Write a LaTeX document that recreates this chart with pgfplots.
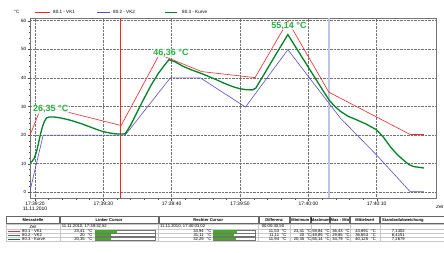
\documentclass[border=0pt]{standalone}
\usepackage{pgfplots}
\pgfplotsset{compat=1.18}
\usepackage{fontspec}
\setmainfont{Liberation Sans}
\definecolor{cred}{RGB}{240,40,40}
\definecolor{cblue}{RGB}{90,80,190}
\definecolor{cgreen}{RGB}{0,130,40}
\definecolor{clab}{RGB}{40,175,70}
\definecolor{ccur}{RGB}{195,195,232}
\definecolor{cbar}{RGB}{70,170,40}
\newcommand\tf{\fontsize{4.2}{4.5}\selectfont}
\newcommand\hf{\fontsize{4.1}{4.5}\selectfont\bfseries}
\newcommand\rowA[9]{%
  \draw[#2, line width=1pt] (7.5,#1) -- (20,#1);
  \node[tn,anchor=west] at (22,#1) {#3};
  \node[tn,anchor=east] at (85,#1) {#4};
  \node[tn,anchor=west] at (87.5,#1) {°C};
  \draw[black!55,line width=0.3pt,fill=white] (95,#1-1.5) rectangle (155,#1+1.5);
  \fill[cbar] (95.2,#1-1.3) rectangle (#5,#1+1.3);
  \node[tn,anchor=east] at (204,#1) {#6};
  \node[tn,anchor=west] at (206.5,#1) {°C};
  \draw[black!55,line width=0.3pt,fill=white] (212.7,#1-1.5) rectangle (255,#1+1.5);
  \fill[cbar] (212.9,#1-1.3) rectangle (#7,#1+1.3);
  \node[tn,anchor=east] at (279.3,#1) {#8};
  \node[tn,anchor=west] at (281.5,#1) {°C};
  \node[tn,anchor=east] at (304.5,#1) {#9};
  \node[tn,anchor=west] at (306.3,#1) {°C};
}
\newcommand\rowB[5]{%
  \node[tn,anchor=east] at (323,#1) {#2};
  \node[tn,anchor=west] at (324.8,#1) {°C};
  \node[tn,anchor=east] at (343,#1) {#3};
  \node[tn,anchor=west] at (344.8,#1) {°C};
  \node[tn,anchor=east] at (368.3,#1) {#4};
  \node[tn,anchor=west] at (371,#1) {°C};
  \node[tn,anchor=east] at (405,#1) {#5};
}
\begin{document}
\begin{tikzpicture}[tn/.style={font=\tf, inner sep=0pt}]
\useasboundingbox (0,0) rectangle (444pt,253pt);
\fill[white] (0,0) rectangle (444pt,253pt);
\clip (0,0) rectangle (444pt,253pt);
\begin{axis}[
  at={(30pt,54.7pt)}, anchor=south west, scale only axis,
  width=406.7pt, height=180pt,
  xmin=19.27, xmax=78.78, ymin=-2.1, ymax=60.84,
  xtick={20,30,40,50,60,70},
  xticklabels={{17:39:20\\11.11.2010},17:39:30,17:39:40,17:39:50,17:40:00,17:40:10},
  xticklabel style={align=center, font=\fontsize{5}{5.2}\selectfont, inner sep=1pt},
  ytick={0,10,20,30,40,50,60},
  yticklabel style={font=\fontsize{4.6}{5}\selectfont, inner sep=1pt},
  minor x tick num=4, minor y tick num=4,
  tick align=outside, major tick length=2.5pt, minor tick length=1.5pt,
  xtick pos=bottom, ytick pos=left,
  grid=major, major grid style={densely dotted, black!55, line width=0.4pt},
  axis line style={black!55, line width=0.5pt},
  every tick/.style={black!70, line width=0.35pt},
  /pgf/number format/assume math mode=true,
]
\addplot[cred, line width=0.5pt] coordinates {(32.52,-2.1) (32.52,60.84)};
\addplot[ccur, line width=1.6pt] coordinates {(63.02,-2.1) (63.02,60.84)};
\addplot[cred, line width=0.6pt] coordinates {(19.27,20.0) (21.0,30.3) (32.6,23.35) (38.2,48.2) (44.4,42.2) (52.2,40.1) (57.0,59.84) (63.0,35.0) (74.9,20.2) (76.9,20.2)};
\addplot[cblue, line width=0.6pt] coordinates {(19.27,0.5) (21.2,20) (33.2,20) (39.8,40) (44.2,40) (50.8,29.8) (57.0,49.85) (63.02,31.11) (64.7,25.9) (70,13) (74.9,0.2) (76.9,0.2)};
\addplot[cgreen, line width=1.3pt] coordinates {(19.27,10.3) (19.6,10.9) (19.9,11.9) (20.2,14) (20.5,17) (20.8,20.3) (21.1,23) (21.4,24.9) (21.7,26) (22.1,26.35) (22.8,26.3) (23.5,26.1) (24.3,25.7) (25,25.3) (26,24.6) (27,23.8) (28,22.9) (29,22.0) (30,21.2) (31,20.7) (32,20.4) (32.6,20.35) (33.2,20.45) (34,23.5) (35,28.3) (36,33) (37,37.5) (38,41.4) (39,44.6) (39.6,46.36) (40.5,45.6) (41.7,44.0) (43,42.7) (44.4,41.5) (45.5,40.4) (46.6,39.3) (47.8,38.0) (49,36.9) (50,36.2) (51,35.85) (51.8,35.8) (52.3,36.4) (53,39.2) (54,43.2) (55,47.2) (56,51.2) (57,55.14) (58,51.3) (59,47.5) (60,43.7) (61,39.9) (62,36.1) (63.02,32.29) (63.8,30.2) (64.7,28.3) (65.8,26.6) (67.1,25.3) (68.5,23.8) (70,21.8) (71,19.2) (72,15.9) (73,13.2) (73.9,11.3) (74.7,9.7) (75.4,9.0) (76.9,8.5)};
\node[font=\fontsize{9}{10}\selectfont\bfseries, text=clab, fill=white, fill opacity=0.75, text opacity=1, inner sep=0.5pt] at (axis cs:22.3,28.95) {26,35 °C};
\node[font=\fontsize{9}{10}\selectfont\bfseries, text=clab, fill=white, fill opacity=0.75, text opacity=1, inner sep=0.5pt] at (axis cs:39.9,48.7) {46,36 °C};
\node[font=\fontsize{9}{10}\selectfont\bfseries, text=clab, fill=white, fill opacity=0.75, text opacity=1, inner sep=0.5pt] at (axis cs:57.17,58.15) {55,14 °C};
\end{axis}
\begin{scope}[x=1pt,y=1pt]
% legend
\node[tn,anchor=west,font=\fontsize{4.6}{5}\selectfont] at (14,240.7) {°C};
\draw[cred, line width=0.8pt] (35,240.7) -- (50,240.7);
\node[tn,anchor=west,font=\fontsize{4.6}{5}\selectfont] at (53,240.7) {80.1 - VK1};
\draw[cblue, line width=0.8pt] (97,240.7) -- (110,240.7);
\node[tn,anchor=west,font=\fontsize{4.6}{5}\selectfont] at (113,240.7) {80.2 - VK2};
\draw[cgreen, line width=1.2pt] (165,240.7) -- (177,240.7);
\node[tn,anchor=west,font=\fontsize{4.6}{5}\selectfont] at (182,240.7) {80.3 - Kurve};
\node[tn,anchor=east,font=\fontsize{4.4}{5}\selectfont\itshape] at (443.6,46) {Zeit};
% table headers
\foreach \a/\b/\t in {6/60/Messstelle,60/158.3/Linker Cursor,158.3/258.3/Rechter Cursor,258.3/290/Differenz,290/310.7/Minimum,310.7/330/Maximum,330/350/Max - Min,350/380/Mittelwert}{
  \draw[black!60, line width=0.5pt, fill=white] (\a+0.5,29.3) rectangle (\b-0.5,36.3);
  \node[inner sep=0pt, font=\hf] at ({(\a+\b)/2},32.8) {\t};
}
\draw[black!60, line width=0.5pt, fill=white] (380.5,29.3) rectangle (460,36.3);
\node[inner sep=0pt, font=\hf, anchor=west] at (382,32.8) {Standardabweichung};
% table body grid
\foreach \yy in {29,23.7,19.8,15.9,12} { \draw[black!22, line width=0.3pt] (6,\yy) -- (444,\yy); }
\foreach \xx in {6,60,158.3,258.3,290,310.7,330,350,380} { \draw[black!22, line width=0.3pt] (\xx,12) -- (\xx,29); }
% row Zeit
\node[tn] at (33,26.35) {Zeit};
\node[tn,anchor=west] at (61.7,26.35) {11.11.2010, 17:39:32,52};
\node[tn,anchor=west] at (160,26.35) {11.11.2010, 17:40:03,02};
\node[tn,anchor=west] at (261.7,26.35) {00:00:30,50};
% rows
\rowA{21.75}{cred}{80.1 - VK1}{23,41}{117}{34,94}{236.7}{11,53}{23,41}
\rowB{21.75}{59,84}{36,43}{43,691}{7,1302}
\rowA{17.85}{cblue}{80.2 - VK2}{20}{110.5}{31,11}{233.5}{11,11}{20}
\rowB{17.85}{49,85}{29,85}{36,653}{6,4151}
\rowA{13.95}{cgreen}{80.3 - Kurve}{20,35}{111}{32,29}{235.5}{11,94}{20,35}
\rowB{13.95}{55,14}{34,79}{40,125}{7,2679}
\end{scope}
\end{tikzpicture}
\end{document}
